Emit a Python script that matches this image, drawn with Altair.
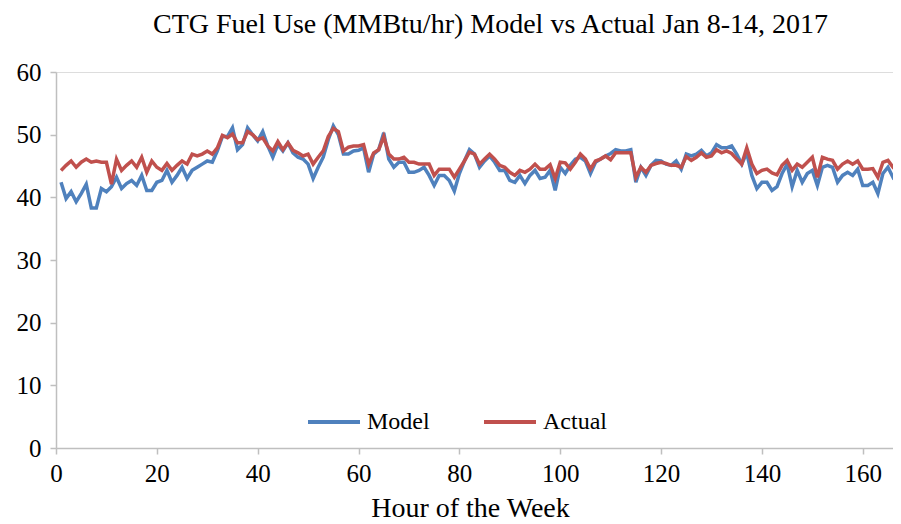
import altair as alt
import pandas as pd

hours = list(range(1, 168))

model = [
    42.4, 39.8, 40.9, 39.3, 40.6, 42.1, 38.3, 38.3, 41.4, 40.9, 41.7, 43.2, 41.4, 42.2, 42.7, 41.9, 43.5, 41.1, 41.1, 42.4,
    42.7, 44.3, 42.4, 43.5, 44.8, 43.0, 44.3,
    44.8, 45.3, 45.8, 45.6, 47.4, 49.7, 49.7, 51.1, 47.6, 48.4, 51.1, 50.0, 49.0, 50.5, 48.2, 46.4, 48.4, 47.4, 48.7, 47.1,
    46.4, 46.1, 45.3, 43.0, 44.8, 46.4, 49.2, 51.4,
    50.0, 46.9, 46.9, 47.4, 47.5, 47.9, 44.0, 46.9, 47.6, 50.3, 46.1, 44.8, 45.6, 45.6, 44.0, 44.0, 44.3, 44.8, 43.5, 41.9,
    43.5, 43.5, 42.7, 41.0, 43.8, 45.8, 47.6,
    46.9, 44.8, 45.8, 46.6, 45.6, 44.3, 44.3, 42.7, 42.4, 43.5, 42.2, 43.5, 44.3, 43.0, 43.2, 44.3, 41.1, 44.8, 43.8, 45.1,
    46.1, 46.4, 45.8, 43.8, 45.6, 46.1, 46.6, 47.0,
    47.6, 47.4, 47.4, 47.6, 42.4, 44.8, 43.5, 45.1, 45.9, 45.8, 45.3, 45.1, 45.8, 44.5, 46.9, 46.6, 46.9, 47.5, 46.6, 47.1,
    48.4, 47.9, 47.9, 48.2, 46.9, 45.3, 47.1, 43.5,
    41.4, 42.4, 42.4, 41.1, 41.7, 43.8, 45.3, 41.7, 44.3, 42.4, 43.8, 44.3, 41.9, 44.8, 45.1, 44.8, 42.4, 43.5, 44.0, 43.5,
    44.5, 41.9, 41.9, 42.4, 40.6, 43.8, 44.8, 43.2, 44.0,
]

actual = [
    44.3, 45.1, 45.8, 44.8, 45.6, 46.1, 45.6, 45.8, 45.6, 45.6, 42.1, 46.1, 44.3, 45.1, 45.8, 44.8, 46.4, 44.0, 45.8, 44.8,
    44.3, 45.4, 44.3, 45.1, 45.8, 45.3, 46.9,
    46.6, 46.9, 47.4, 46.9, 47.9, 49.9, 49.5, 50.1, 48.7, 48.7, 50.5, 50.0, 49.2, 49.5, 48.2, 47.4, 48.9, 47.6, 48.7, 47.5,
    47.1, 46.6, 46.9, 45.3, 46.4, 47.4, 49.7, 51.0,
    50.5, 47.4, 48.0, 48.2, 48.2, 48.4, 45.3, 47.1, 47.6, 49.7, 46.9, 46.1, 46.1, 46.4, 45.6, 45.6, 45.3, 45.3, 45.3, 43.5,
    44.5, 44.5, 44.5, 43.2, 44.5, 45.8, 47.2,
    46.9, 45.3, 46.1, 46.9, 46.1, 45.1, 44.8, 44.0, 43.5, 44.3, 44.0, 44.5, 45.3, 44.5, 44.5, 45.2, 43.0, 45.6, 45.5, 44.5,
    45.6, 46.9, 46.1, 44.5, 45.8, 46.1, 46.6, 46.0,
    47.1, 47.1, 47.1, 47.1, 43.2, 44.8, 44.0, 45.1, 45.4, 45.6, 45.4, 45.1, 45.1, 44.8, 46.5, 45.9, 46.4, 47.1, 46.4, 46.6,
    47.6, 47.1, 47.4, 47.0, 46.1, 45.3, 47.9, 45.3,
    43.8, 44.3, 44.5, 43.9, 43.6, 45.1, 45.9, 44.3, 45.3, 44.8, 45.6, 46.4, 43.2, 46.4, 46.1, 45.9, 44.5, 45.3, 45.8, 45.3,
    45.8, 44.5, 44.5, 44.6, 43.2, 45.6, 45.9, 44.8, 45.3,
]

series_names = ["Model", "Actual"]
series_colors = ["#4f81bd", "#c0504d"]
x_ticks = [0, 20, 40, 60, 80, 100, 120, 140, 160]
y_ticks = [0, 10, 20, 30, 40, 50, 60]

df = pd.DataFrame({"hour": hours, "Model": model, "Actual": actual})
long = df.melt(id_vars="hour", value_vars=series_names, var_name="series", value_name="value")

FONT = "Liberation Serif"
AXIS_GRAY = "#bfbfbf"

x = alt.X(
    "hour:Q",
    scale=alt.Scale(domain=[0, 166], nice=False, zero=False),
    axis=alt.Axis(
        title="Hour of the Week", values=x_ticks, grid=False, labelFlush=False,
        tickSize=6, labelPadding=7, titlePadding=8, titleX=414,
        labelFont=FONT, titleFont=FONT,
    ),
)
y = alt.Y(
    "value:Q",
    scale=alt.Scale(domain=[0, 60], nice=False),
    axis=alt.Axis(title=None, values=y_ticks, grid=False, tickSize=6, labelPadding=9, labelFont=FONT),
)
color = alt.Color(
    "series:N",
    scale=alt.Scale(domain=series_names, range=series_colors),
    legend=alt.Legend(
        title=None, orient="none", legendX=250, legendY=322, direction="horizontal",
        symbolType="stroke", symbolSize=2704, symbolStrokeWidth=4,
        labelOffset=5, columnPadding=46, labelFont=FONT,
    ),
)

base = alt.Chart(long).mark_line(strokeWidth=3.5, clip=True)
layers = [
    base.transform_filter(alt.datum.series == name).encode(x=x, y=y, color=color)
    for name in series_names
]

chart = (
    alt.layer(*layers)
    .properties(
        width=837,
        height=376,
        title=alt.TitleParams(
            "CTG Fuel Use (MMBtu/hr) Model vs Actual Jan 8-14, 2017",
            font=FONT, fontSize=28, fontWeight="normal", color="black",
            offset=21, anchor="middle", dx=16,
        ),
        autosize=alt.AutoSizeParams(type="none"),
        padding={"left": 48, "top": 64, "right": 0, "bottom": 75},
    )
    .configure_view(stroke=None)
    .configure(background="white", font=FONT)
    .configure_axis(
        labelFont=FONT, labelFontSize=25, labelColor="black",
        titleFont=FONT, titleFontSize=28, titleFontWeight="normal", titleColor="black",
        domainColor=AXIS_GRAY, tickColor=AXIS_GRAY, domainWidth=1.5, tickWidth=1.5,
    )
    .configure_legend(labelFont=FONT, labelFontSize=24, labelColor="black")
)

chart.save("out.html", embed_options={"renderer": "svg", "actions": False})
